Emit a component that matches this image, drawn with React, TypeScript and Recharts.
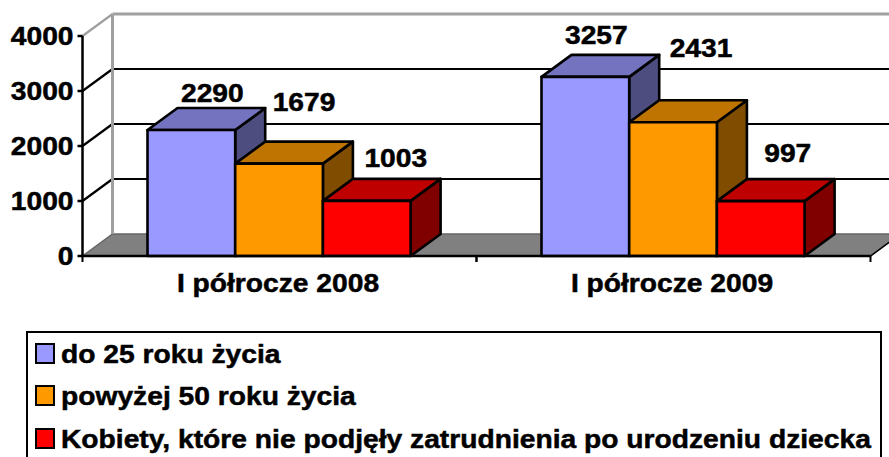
import { Bar, BarChart, CartesianGrid, LabelList, Legend, XAxis, YAxis } from "recharts";

const categories = ["I półrocze 2008", "I półrocze 2009"];
const seriesNames = [
  "do 25 roku życia",
  "powyżej 50 roku życia",
  "Kobiety, które nie podjęły zatrudnienia po urodzeniu dziecka",
];
const youngValues = [2290, 3257];
const olderValues = [1679, 2431];
const womenValues = [1003, 997];
const yTicks = [0, 1000, 2000, 3000, 4000];

const frontColors = ["#9999FF", "#FF9900", "#FF0000"];
const topColors = ["#7373BF", "#BF7300", "#BF0000"];
const sideColors = ["#4D4D80", "#804D00", "#800000"];

// the labels in the original were moved by hand, so each one has its own nudge
const labelNudges = [
  [[21, -37], [25, -62], [29, -43]],
  [[11, -42], [28, -74], [27, -48]],
];

const data = categories.map((name, i) => ({
  name,
  young: youngValues[i],
  older: olderValues[i],
  women: womenValues[i],
}));

const DX = 30;
const DY = 22;
const FONT = "'Liberation Sans', Arial, sans-serif";
const SX = 1.085;
const FONT_SIZE = 26;

const Stretched = ({ x, y, anchor, children }: any) => (
  <text
    transform={`translate(${x},${y}) scale(${SX},1)`}
    textAnchor={anchor}
    fontFamily={FONT}
    fontSize={FONT_SIZE}
    fontWeight="bold"
    fill="#000"
    stroke="#000"
    strokeWidth={0.5}
  >
    {children}
  </text>
);

const box = (series: number) => (props: any) => {
  const { x, y, width, height } = props;
  const r = x + width;
  const b = y + height;
  return (
    <g stroke="#000" strokeWidth={2.6} strokeLinejoin="round">
      <polygon points={`${r},${y} ${r + DX},${y - DY} ${r + DX},${b - DY} ${r},${b}`} fill={sideColors[series]} />
      <polygon points={`${x},${y} ${x + DX},${y - DY} ${r + DX},${y - DY} ${r},${y}`} fill={topColors[series]} />
      <rect x={x} y={y} width={width} height={height} fill={frontColors[series]} />
    </g>
  );
};

const valueLabel = (series: number) => (props: any) => {
  const { x, y, width, value, index } = props;
  const [nx, ny] = labelNudges[index][series];
  return (
    <Stretched x={x + width / 2 + nx} y={y + ny + 9} anchor="middle">
      {value}
    </Stretched>
  );
};

// back wall, floor and the slanted parts of the grid
const gridLine = (props: any) => {
  const { x1, x2, y1, index } = props;
  const first = index === 0;
  const last = index === yTicks.length - 1;
  const key = `wall-${index}`;
  if (first) {
    return (
      <g key={key}>
        <polygon
          points={`${x1},${y1} ${x1 + DX},${y1 - DY} ${x2 + DX},${y1 - DY} ${x2},${y1}`}
          fill="#808080"
          stroke="#666"
          strokeWidth={1.5}
        />
        <line x1={x2} y1={y1} x2={x2 + DX} y2={y1 - DY} stroke="#000" strokeWidth={1.5} />
      </g>
    );
  }
  const color = last ? "#A0A0A0" : "#000";
  return (
    <g key={key}>
      <line x1={x1} y1={y1} x2={x1 + DX} y2={y1 - DY} stroke={color} strokeWidth={2.2} />
      <line x1={x1 + DX} y1={y1 - DY} x2={x2 + DX} y2={y1 - DY} stroke={color} strokeWidth={last ? 3 : 2.2} />
      {last && <line x1={x1 + DX} y1={y1 - DY} x2={x1 + DX} y2={y1 - DY + 220} stroke="#A0A0A0" strokeWidth={3} />}
    </g>
  );
};

const YTick = ({ x, y, payload }: any) => (
  <Stretched x={x} y={y + 9} anchor="end">
    {payload.value}
  </Stretched>
);

const XTick = ({ x, y, payload }: any) => {
  const half = payload.offset ?? 197;
  return (
    <g>
      <line x1={x - half} y1={256} x2={x - half} y2={262} stroke="#000" strokeWidth={2} />
      <line x1={x + half} y1={256} x2={x + half} y2={262} stroke="#000" strokeWidth={2} />
      <Stretched x={x - 1.5} y={y + 28} anchor="middle">
        {payload.value}
      </Stretched>
    </g>
  );
};

const LegendBox = ({ payload }: any) => (
  <div
    style={{
      boxSizing: "border-box",
      width: 856,
      height: 140,
      border: "2.5px solid #000",
      background: "#fff",
      position: "relative",
    }}
  >
    {(payload ?? []).map((item: any, i: number) => (
      <div key={item.value}>
        <div
          style={{
            position: "absolute",
            boxSizing: "border-box",
            left: 7,
            top: 10 + i * 42.3,
            width: 20,
            height: 21,
            background: frontColors[i],
            border: "2.5px solid #000",
          }}
        />
        <div
          style={{
            position: "absolute",
            left: 33,
            top: 6 + i * 42.3,
            fontFamily: FONT,
            fontSize: FONT_SIZE,
            lineHeight: "30px",
            fontWeight: "bold",
            color: "#000",
            whiteSpace: "nowrap",
            WebkitTextStroke: "0.5px #000",
            transform: `scaleX(${SX})`,
            transformOrigin: "left center",
          }}
        >
          {item.value}
        </div>
      </div>
    ))}
  </div>
);

export default function App() {
  return (
    <div style={{ position: "absolute", left: 0, top: 0, width: 889, height: 457, overflow: "hidden", background: "#fff" }}>
      <BarChart
        width={889}
        height={457}
        data={data}
        margin={{ top: 36, right: 18.5, left: 22.5, bottom: 21 }}
        barSize={87.7}
        barGap={0}
      >
        <CartesianGrid vertical={false} horizontal={gridLine} />
        <XAxis
          dataKey="name"
          height={40}
          stroke="#000"
          strokeWidth={2.5}
          tickLine={false}
          tick={<XTick />}
          interval={0}
        />
        <YAxis
          width={60}
          domain={[0, 4000]}
          ticks={yTicks}
          stroke="#000"
          strokeWidth={2.5}
          tickSize={5}
          tickMargin={4}
          tick={<YTick />}
          interval={0}
        />
        <Legend
          layout="vertical"
          verticalAlign="bottom"
          itemSorter={null}
          content={<LegendBox />}
          wrapperStyle={{ left: 26, top: 331, bottom: "auto", width: 856 }}
        />
        <Bar dataKey="young" name={seriesNames[0]} fill={frontColors[0]} shape={box(0)} isAnimationActive={false}>
          <LabelList dataKey="young" content={valueLabel(0)} />
        </Bar>
        <Bar dataKey="older" name={seriesNames[1]} fill={frontColors[1]} shape={box(1)} isAnimationActive={false}>
          <LabelList dataKey="older" content={valueLabel(1)} />
        </Bar>
        <Bar dataKey="women" name={seriesNames[2]} fill={frontColors[2]} shape={box(2)} isAnimationActive={false}>
          <LabelList dataKey="women" content={valueLabel(2)} />
        </Bar>
      </BarChart>
    </div>
  );
}
